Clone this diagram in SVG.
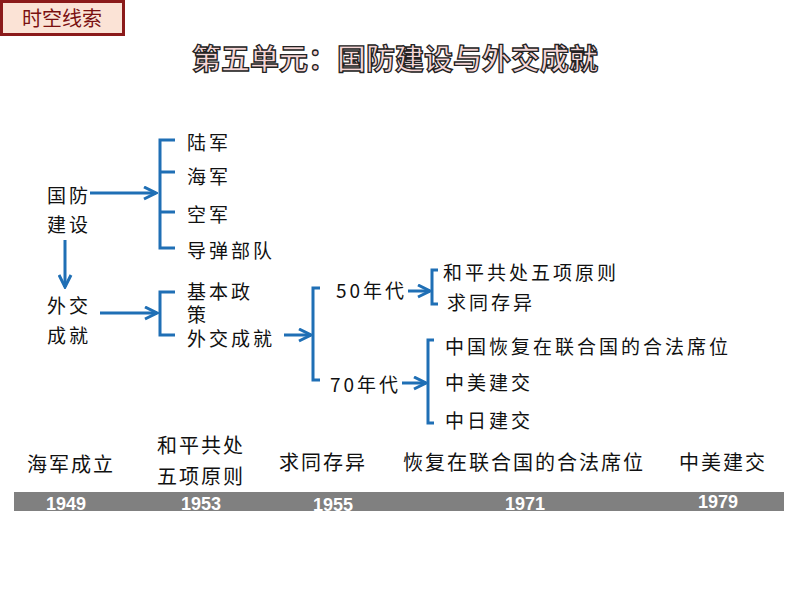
<svg xmlns="http://www.w3.org/2000/svg" width="794" height="593" viewBox="0 0 794 593">
<style>
.t{font-family:"Noto Sans CJK SC",sans-serif;font-size:19px;fill:#111;letter-spacing:3px}
.u{font-family:"Noto Sans CJK SC",sans-serif;font-size:20px;fill:#111;letter-spacing:2px}
.b{fill:none;stroke:#1f6fb5;stroke-width:3}
.y{font-family:"Liberation Sans",sans-serif;font-weight:bold;font-size:18px;fill:#fff;text-anchor:middle}
</style>
<defs><marker id="a" viewBox="0 0 10 10" refX="9" refY="5" markerWidth="5" markerHeight="5" orient="auto"><path d="M1,1 L9,5 L1,9" fill="none" stroke="#1f6fb5" stroke-width="2"/></marker></defs>
<rect width="794" height="593" fill="#fff"/>
<g id="badge"><rect x="1.5" y="1.5" width="122" height="33" fill="#fbe3d6" stroke="#8b1a1a" stroke-width="3"/><text x="62" y="26" font-family="Noto Sans CJK SC,sans-serif" font-size="20" fill="#7a1010" text-anchor="middle">时空线索</text></g>
<g id="title"><text x="395" y="70" font-family="Noto Sans CJK SC,sans-serif" font-weight="bold" font-size="29" fill="#f6d6d6" stroke="#222" stroke-width="1.3" text-anchor="middle">第五单元：国防建设与外交成就</text></g>
<g id="connectors">
<path class="b" d="M175,140H160V248H175M160,172H175M160,212H175"/>
<path class="b" d="M175,292H160V335H175"/>
<path class="b" d="M320,288H313V380H320"/>
<path class="b" d="M438,270H432V304H438"/>
<path class="b" d="M434,340H428V423H434"/>
<line class="b" x1="90" y1="193" x2="156" y2="193" marker-end="url(#a)"/>
<line class="b" x1="65" y1="240" x2="65" y2="287" marker-end="url(#a)"/>
<line class="b" x1="100" y1="313" x2="157" y2="313" marker-end="url(#a)"/>
<line class="b" x1="284" y1="335" x2="311" y2="335" marker-end="url(#a)"/>
<line class="b" x1="408" y1="291" x2="430" y2="291" marker-end="url(#a)"/>
<line class="b" x1="402" y1="383" x2="426" y2="383" marker-end="url(#a)"/>
</g>
<g id="nodes">
<text class="t" x="187" y="150">陆军</text>
<text class="t" x="187" y="184">海军</text>
<text class="t" x="187" y="222">空军</text>
<text class="t" x="187" y="258">导弹部队</text>
<text class="t" x="47" y="203">国防</text>
<text class="t" x="47" y="232">建设</text>
<text class="t" x="47" y="313">外交</text>
<text class="t" x="47" y="343">成就</text>
<text class="t" x="187" y="299">基本政</text>
<text class="t" x="187" y="322">策</text>
<text class="t" x="187" y="346">外交成就</text>
<text class="t" x="336" y="298" letter-spacing="1">50年代</text>
<text class="t" x="330" y="392" letter-spacing="1">70年代</text>
<text class="t" x="443" y="280">和平共处五项原则</text>
<text class="t" x="447" y="310">求同存异</text>
<text class="t" x="445" y="354">中国恢复在联合国的合法席位</text>
<text class="t" x="445" y="390">中美建交</text>
<text class="t" x="445" y="428">中日建交</text>
</g>
<g id="timeline">
<text class="u" x="27" y="472">海军成立</text>
<text class="u" x="157" y="453">和平共处</text>
<text class="u" x="157" y="484">五项原则</text>
<text class="u" x="279" y="470">求同存异</text>
<text class="u" x="403" y="470">恢复在联合国的合法席位</text>
<text class="u" x="679" y="470">中美建交</text>
<rect x="14" y="492" width="770" height="19" fill="#808080"/>
<text class="y" x="66" y="510">1949</text>
<text class="y" x="201" y="510">1953</text>
<text class="y" x="333" y="511">1955</text>
<text class="y" x="525" y="510">1971</text>
<text class="y" x="718" y="508">1979</text>
</g>
</svg>
